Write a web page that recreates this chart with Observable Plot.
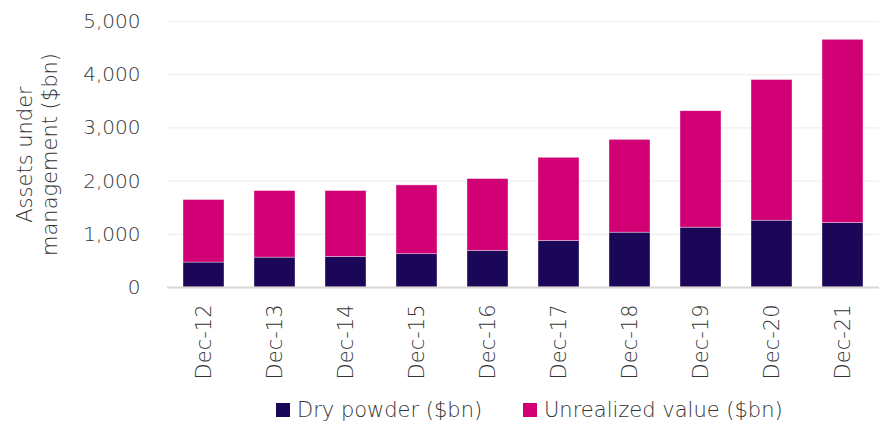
<!DOCTYPE html>
<html>
<head>
<meta charset="utf-8">
<script src="https://cdn.jsdelivr.net/npm/d3@7"></script>
<script src="https://cdn.jsdelivr.net/npm/@observablehq/plot@0.6"></script>
<style>
  html, body { margin: 0; padding: 0; background: #ffffff; }
  #chart { width: 884px; position: relative; font-family: "DejaVu Sans", sans-serif; }
  #legend { position: relative; height: 35px; width: 884px; font-family: "DejaVu Sans", sans-serif; font-weight: 300; }
  .item { position: absolute; top: 0; height: 40px; display: flex; align-items: center; font-size: 21px; color: #333333; white-space: nowrap; }
  .sw { width: 14px; height: 14px; margin-right: 7px; display: inline-block; }
</style>
</head>
<body>
<div id="chart"></div>
<script>
const categories = ["Dec-12", "Dec-13", "Dec-14", "Dec-15", "Dec-16", "Dec-17", "Dec-18", "Dec-19", "Dec-20", "Dec-21"];
const dryPowder = [469, 562, 575, 625, 688, 875, 1031, 1125, 1256, 1213];
const unrealizedValue = [1175, 1251, 1238, 1294, 1350, 1563, 1744, 2188, 2644, 3443];
const seriesNames = ["Dry powder ($bn)", "Unrealized value ($bn)"];
const seriesColors = ["#1a0757", "#d10074"];
const yTicks = [0, 1000, 2000, 3000, 4000, 5000];
const yTitle = "Assets under\nmanagement ($bn)";

const rows = [];
categories.forEach((c, i) => {
  rows.push({cat: c, series: seriesNames[0], value: dryPowder[i]});
  rows.push({cat: c, series: seriesNames[1], value: unrealizedValue[i]});
});

const font = "DejaVu Sans, sans-serif";
const chart = Plot.plot({
  width: 884,
  height: 390,
  marginLeft: 167,
  marginRight: 5,
  marginTop: 21,
  marginBottom: 103,
  style: {fontFamily: font, background: "#ffffff", color: "#333333", fontWeight: 300},
  x: {domain: categories, paddingInner: 0.42, paddingOuter: 0.21, label: null},
  y: {domain: [0, 5000], label: null},
  color: {domain: seriesNames, range: seriesColors},
  marks: [
    Plot.ruleY(yTicks.filter(d => d > 0), {stroke: "#efefef", strokeWidth: 1.2}),
    Plot.barY(rows, {x: "cat", y: "value", fill: "series", stroke: "#ffffff", strokeWidth: 0.6, strokeOpacity: 0.6}),
    Plot.ruleY([0], {stroke: "#dcd7d2", strokeWidth: 2}),
    Plot.axisY({ticks: yTicks, tickSize: 0, tickPadding: 27, tickFormat: d3.format(","), fontSize: 20, label: null}),
    Plot.axisX({tickSize: 0, tickRotate: -90, tickPadding: 17, fontSize: 21, label: null}),
    Plot.text([yTitle], {frameAnchor: "left", rotate: -90, dx: -131, fontSize: 21, lineHeight: 1.2, textAnchor: "middle", fill: "#333333"})
  ]
});
document.getElementById("chart").appendChild(chart);

const legend = document.createElement("div");
legend.id = "legend";
const lefts = [276, 523];
seriesNames.forEach((name, i) => {
  const item = document.createElement("div");
  item.className = "item";
  item.style.left = lefts[i] + "px";
  const sw = document.createElement("span");
  sw.className = "sw";
  sw.style.background = seriesColors[i];
  const label = document.createElement("span");
  label.textContent = name;
  item.appendChild(sw);
  item.appendChild(label);
  legend.appendChild(item);
});
document.getElementById("chart").appendChild(legend);
</script>
</body>
</html>
